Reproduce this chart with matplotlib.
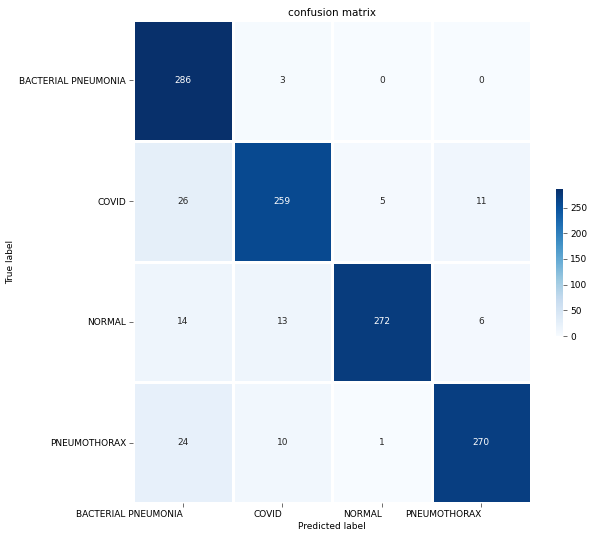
import matplotlib
matplotlib.use("Agg")
import matplotlib.pyplot as plt
import numpy as np

labels = ["BACTERIAL PNEUMONIA", "COVID", "NORMAL", "PNEUMOTHORAX"]
cm = [
    [286, 3, 0, 0],
    [26, 259, 5, 11],
    [14, 13, 272, 6],
    [24, 10, 1, 270],
]

data = np.array(cm)
fs = 6.5
fig = plt.figure(figsize=(5.94, 5.39), dpi=100)
ax = fig.add_axes([133/594, 1-503/539, (531-133)/594, (503-20)/539])
cax = fig.add_axes([556/594, 1-336/539, 7/594, 147/539])

im = ax.pcolormesh(np.arange(5), np.arange(5), data, cmap="Blues", vmin=0, vmax=data.max(),
                   edgecolor="white", linewidth=0.9)
ax.set_xlim(0, 4)
ax.set_ylim(4, 0)
for s in ax.spines.values():
    s.set_visible(False)
norm = im.norm
for i in range(4):
    for j in range(4):
        v = data[i, j]
        c = "white" if norm(v) > 0.5 else "#262626"
        ax.text(j + 0.5, i + 0.5, str(v), ha="center", va="center", color=c, fontsize=fs)

ax.set_xticks(np.arange(4) + 0.5)
ax.set_xticklabels(labels, rotation=0, ha="right", fontsize=fs)
ax.set_yticks(np.arange(4) + 0.5)
ax.set_yticklabels(labels, fontsize=fs)
ax.tick_params(length=3, width=0.6, color="#555555", pad=2)
ax.set_xlabel("Predicted label", fontsize=fs, labelpad=2)
ax.set_ylabel("True label", fontsize=fs, labelpad=3)
ax.set_title("confusion matrix", fontsize=7.5, pad=3)

cb = fig.colorbar(im, cax=cax, ticks=[0, 50, 100, 150, 200, 250])
cb.outline.set_visible(False)
cb.ax.tick_params(labelsize=fs, length=3, width=0.6, color="#555555", pad=2)

fig.savefig("out.png", dpi=100)
